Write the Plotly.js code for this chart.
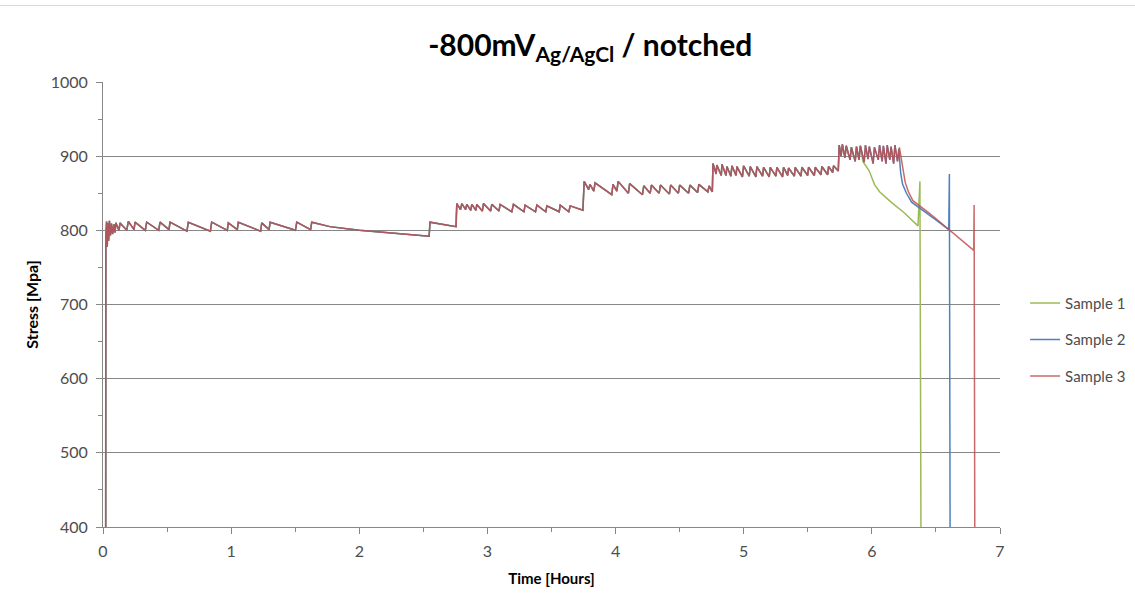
<!DOCTYPE html>
<html>
<head>
<meta charset="utf-8">
<script src="https://cdn.plot.ly/plotly-3.0.1.min.js"></script>
<style>html,body{margin:0;padding:0;background:#fff;}#chart{width:1135px;height:606px;}</style>
</head>
<body>
<div id="chart"></div>
<script>
// Shared creep history (hours, MPa) common to all three samples
const commonTime = [
  0.020, 0.022, 0.028, 0.033, 0.038, 0.044, 0.050, 0.058, 0.066, 0.075, 0.085, 0.094,
  0.100, 0.125, 0.133, 0.185, 0.198, 0.242, 0.250, 0.330, 0.341, 0.435, 0.445, 0.515,
  0.523, 0.655, 0.666, 0.838, 0.848, 0.970, 0.978, 1.048, 1.056, 1.230, 1.239, 1.296,
  1.304, 1.502, 1.512, 1.620, 1.629, 1.770, 2.000, 2.250, 2.545,
  2.552, 2.755, 2.761, 2.790, 2.800, 2.830, 2.839, 2.870, 2.878, 2.910, 2.917, 2.960,
  2.969, 3.025, 3.034, 3.090, 3.099, 3.190, 3.203, 3.285, 3.294, 3.375, 3.386, 3.455,
  3.464, 3.560, 3.568, 3.635, 3.646, 3.745,
  3.755, 3.790, 3.800, 3.830, 3.840, 3.970, 3.980, 4.010, 4.020, 4.100, 4.110, 4.210,
  4.220, 4.270, 4.280, 4.340, 4.350, 4.420, 4.430, 4.490, 4.500, 4.570, 4.580, 4.640,
  4.650, 4.720, 4.730, 4.755,
  4.760, 4.785, 4.790, 4.825, 4.830, 4.862, 4.869, 4.900, 4.908, 4.940, 4.947, 4.990,
  4.999, 5.043, 5.051, 5.095, 5.103, 5.147, 5.155, 5.199, 5.207, 5.251, 5.259, 5.303,
  5.311, 5.343, 5.350, 5.395, 5.402, 5.447, 5.454, 5.499, 5.506, 5.551, 5.558, 5.603,
  5.610, 5.655, 5.662, 5.695, 5.701, 5.738,
  5.745, 5.760, 5.770, 5.790, 5.800, 5.830, 5.840, 5.870, 5.880, 5.900, 5.910
];
const commonStress = [
  0, 790, 812, 778, 810, 786, 813, 793, 809, 795, 808, 797,
  810, 800, 810, 800, 812, 801, 811, 800, 811, 800, 811, 801,
  811, 799, 811, 799, 811, 800, 810, 801, 811, 799, 810, 801,
  811, 800, 811, 801, 811, 805, 800, 796, 792,
  811, 805, 836, 828, 836, 828, 835, 827, 835, 827, 835, 826,
  836, 826, 835, 826, 835, 825, 835, 825, 834, 825, 834, 825,
  833, 825, 834, 825, 833, 827,
  866, 855, 862, 853, 864, 848, 862, 853, 866, 850, 863, 848,
  860, 850, 861, 850, 861, 849, 861, 850, 861, 850, 861, 851,
  862, 852, 860, 852,
  890, 876, 888, 874, 889, 874, 886, 873, 887, 874, 886, 872,
  887, 873, 886, 872, 886, 873, 885, 872, 885, 873, 885, 872,
  885, 874, 884, 873, 885, 873, 885, 874, 885, 874, 885, 875,
  886, 875, 886, 878, 887, 880,
  915, 900, 916, 898, 914, 895, 912, 893, 913, 895, 914
];

// Sample 1 (fails first)
const s1TailTime   = [5.930, 5.980, 6.020, 6.060, 6.150, 6.250, 6.360, 6.375, 6.390];
const s1TailStress = [893, 880, 862, 852, 838, 824, 806, 866, 0];

// Noisy plateau shared by samples 2 and 3
const plateauTime   = [5.940, 5.950, 5.970, 5.980, 6.010, 6.020, 6.050, 6.060, 6.080, 6.090,
                       6.110, 6.120, 6.140, 6.150, 6.170, 6.180, 6.200];
const plateauStress = [892, 915, 896, 913, 890, 912, 895, 915, 893, 914,
                       890, 915, 895, 913, 890, 915, 893];

// Sample 2
const s2TailTime   = [6.210, 6.225, 6.240, 6.270, 6.310, 6.400, 6.500, 6.600, 6.605, 6.615];
const s2TailStress = [910, 877, 862, 850, 838, 827, 814, 801, 876, 0];

// Sample 3
const s3TailTime   = [6.215, 6.230, 6.245, 6.260, 6.285, 6.320, 6.450, 6.610, 6.700, 6.795, 6.798, 6.808];
const s3TailStress = [912, 895, 878, 865, 852, 840, 823, 800, 787, 773, 834, 0];

const seriesNames  = ['Sample 1', 'Sample 2', 'Sample 3'];
const seriesColors = ['#9BBB59', '#4F81BD', '#C0504D'];

const xTicks = [0, 1, 2, 3, 4, 5, 6, 7];
const yTicks = [400, 500, 600, 700, 800, 900, 1000];

const s1T = commonTime.concat(s1TailTime);
const s1S = commonStress.concat(s1TailStress);
const s2T = commonTime.concat(plateauTime, s2TailTime);
const s2S = commonStress.concat(plateauStress, s2TailStress);
const s3T = commonTime.concat(plateauTime, s3TailTime);
const s3S = commonStress.concat(plateauStress, s3TailStress);

const dataX = [s1T, s2T, s3T];
const dataY = [s1S, s2S, s3S];

const traces = seriesNames.map((name, i) => ({
  x: dataX[i], y: dataY[i], name: name, type: 'scatter', mode: 'lines',
  legendgroup: 'g' + i,
  line: {color: seriesColors[i], width: 1.5},
  opacity: i === 2 ? 0.85 : 1
}));

const fontFam = 'Lato, "Open Sans", "DejaVu Sans", sans-serif';
const gridCol = '#878787';
const tickCol = '#4d4d4d';

const layout = {
  width: 1135, height: 606,
  paper_bgcolor: '#ffffff', plot_bgcolor: '#ffffff',
  margin: {l: 103, r: 135, t: 82, b: 79, autoexpand: false},
  font: {family: fontFam, color: tickCol, size: 15},
  title: {
    text: '<b>-800mV<sub>Ag/AgCl</sub> / notched</b>',
    font: {family: fontFam, size: 30, color: '#000000'},
    x: 0.52, xref: 'container', xanchor: 'center',
    y: 0.925, yref: 'container', yanchor: 'middle'
  },
  showlegend: true,
  legend: {
    x: 1.028, xanchor: 'left', y: 0.54, yanchor: 'top',
    traceorder: 'grouped', tracegroupgap: 14,
    font: {family: fontFam, size: 15, color: tickCol},
    bgcolor: 'rgba(0,0,0,0)'
  },
  xaxis: {
    range: [0, 7], tickvals: xTicks, ticktext: xTicks.map(String),
    showgrid: false, zeroline: false,
    showline: true, linecolor: gridCol, linewidth: 1,
    ticks: 'outside', ticklen: 6, tickcolor: gridCol,
    minor: {dtick: 0.5, ticks: 'outside', ticklen: 4, tickcolor: gridCol, showgrid: false},
    tickfont: {family: fontFam, size: 16, color: tickCol},
    ticklabelstandoff: 4,
    title: {text: '<b>Time [Hours]</b>', font: {family: fontFam, size: 15, color: '#000000'}, standoff: 14}
  },
  yaxis: {
    range: [400, 1000], tickvals: yTicks, ticktext: yTicks.map(String),
    showgrid: true, gridcolor: gridCol, gridwidth: 1, zeroline: false,
    showline: true, linecolor: gridCol, linewidth: 1,
    ticks: 'outside', ticklen: 6, tickcolor: gridCol,
    minor: {dtick: 50, ticks: 'outside', ticklen: 4, tickcolor: gridCol, showgrid: false},
    tickfont: {family: fontFam, size: 16, color: tickCol},
    ticklabelstandoff: 5,
    title: {text: '<b>Stress [Mpa]</b>', font: {family: fontFam, size: 16, color: '#000000'}, standoff: 8}
  },
  shapes: [{
    type: 'line', xref: 'paper', yref: 'paper',
    x0: -0.115, x1: 1.151, y0: 1.172, y1: 1.172,
    line: {color: '#d9d9d9', width: 1}
  }]
};

Plotly.newPlot('chart', traces, layout, {displayModeBar: false, staticPlot: true});
</script>
</body>
</html>
